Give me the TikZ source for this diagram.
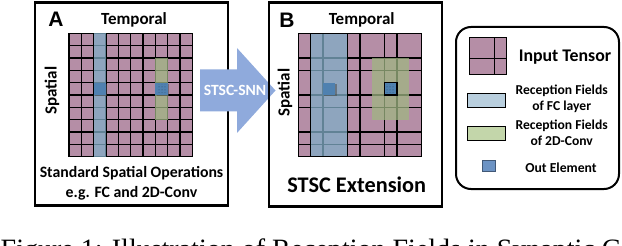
\documentclass[tikz,border=0pt]{standalone}
\usepackage{fontspec}
\usetikzlibrary{patterns}
\newfontfamily\carl{Carlito}
\newfontfamily\arialf{Liberation Sans}
\newfontfamily\timesf{Liberation Serif}
\definecolor{pinkT}{RGB}{181,142,166}
\definecolor{fcblue}{RGB}{130,174,199}
\definecolor{convgreen}{RGB}{160,182,131}
\definecolor{outblue}{RGB}{79,129,176}
\definecolor{arrowblue}{RGB}{143,170,220}
\definecolor{legblue}{RGB}{185,207,222}
\definecolor{leggreen}{RGB}{195,214,170}
\definecolor{legout}{RGB}{108,147,196}
\begin{document}
\begin{tikzpicture}[x=1pt,y=-1pt,
  gridline/.style={line width=1.2pt,black},
  panel/.style={line width=2.6pt,black},
  lab/.style={inner sep=0pt,font=\carl\bfseries\fontsize{#1}{#1}\selectfont},
  letter/.style={inner sep=0pt,font=\arialf\bfseries\fontsize{21}{21}\selectfont},
  fcover/.style={fill=fcblue,fill opacity=0.75},
  convover/.style={fill=convgreen,fill opacity=0.75},
  outshadow/.style={fill=black!70,fill opacity=0.55},
  outel/.style={fill=outblue},
  dotted texture/.style={pattern=dots,pattern color=outblue!55!black}]
\useasboundingbox (0,0) rectangle (622,246);
\clip (0,0) rectangle (622,246);
\def\u{12.333}
% ---------------- Panel A ----------------
\def\ax{69}\def\ay{33.33}
\fill[pinkT] (\ax,\ay) rectangle +(123.33,123.33);
\foreach \i in {1,...,9}{
  \draw[gridline] ({\ax+\i*\u},\ay) -- ++(0,123.33);
  \draw[gridline] (\ax,{\ay+\i*\u}) -- ++(123.33,0);}
\draw[gridline] (\ax,\ay) rectangle +(123.33,123.33);
\fill[fcover] ({\ax+2*\u},\ay) rectangle ({\ax+3*\u},{\ay+10*\u});
\fill[convover] ({\ax+7*\u},{\ay+2*\u}) rectangle ({\ax+8*\u},{\ay+7*\u});
\fill[outshadow] ({\ax+2*\u+1.2},{\ay+4*\u+1.2}) rectangle +(\u,\u);
\fill[outel] ({\ax+2*\u},{\ay+4*\u}) rectangle +(\u,\u);
\fill[outshadow] ({\ax+7*\u+1.2},{\ay+4*\u+1.2}) rectangle +(\u,\u);
\fill[outel] ({\ax+7*\u},{\ay+4*\u}) rectangle +(\u,\u);
\fill[dotted texture] ({\ax+7*\u+2},{\ay+4*\u+2}) rectangle +(8,8);
\node[letter] (A) at (56,19.5) {A};
\node[lab=17] (tempA) at (134,20) {Temporal};
\node[lab=17,rotate=90] (spatA) at (52,90.5) {Spatial};
\node[lab=15.8] (stdA) at (131.5,173) {Standard Spatial Operations};
\node[lab=15.8] (egA) at (131.5,193) {e.g. FC and 2D-Conv};
\draw[panel] (35,2.5) rectangle (228,205.5);
% ---------------- Arrow ----------------
\fill[arrowblue] (200,69.5) -- (237,69.5) -- (237,48) -- (275.5,90.5) -- (237,133) -- (237,111.5) -- (200,111.5) -- cycle;
\node[lab=15.6,text=white] (arr) at (235,90.5) {STSC-SNN};
% ---------------- Panel B ----------------
\def\bx{298.33}\def\by{33.33}
\fill[pinkT] (\bx,\by) rectangle +(123.33,123.33);
\foreach \i in {1,2,4,5,7,8}{
  \draw[gridline] ({\bx+\i*\u},\by) -- ++(0,123.33);}
\foreach \i in {2,3,5,6,8,9}{
  \draw[gridline] (\bx,{\by+\i*\u}) -- ++(123.33,0);}
\fill[fcover] ({\bx+1*\u},\by) rectangle ({\bx+4*\u},{\by+10*\u});
\fill[convover] ({\bx+6*\u},{\by+2*\u}) rectangle ({\bx+9*\u},{\by+7*\u});
\draw[gridline] ({\bx+1*\u},\by) -- ++(0,123.33);
\draw[gridline] ({\bx+4*\u},\by) -- ++(0,123.33);
\draw[gridline] (\bx,\by) rectangle +(123.33,123.33);
\fill[outshadow] ({\bx+2*\u+1.5},{\by+4*\u+1.5}) rectangle +(\u,\u);
\fill[outel] ({\bx+2*\u},{\by+4*\u}) rectangle +(\u,\u);
\fill[outshadow] ({\bx+7*\u+1.2},{\by+4*\u+1.2}) rectangle +(\u,\u);
\fill[outel] ({\bx+7*\u},{\by+4*\u}) rectangle +(\u,\u);
\fill[dotted texture] ({\bx+7*\u+2},{\by+4*\u+2}) rectangle +(8,8);
\draw[gridline] ({\bx+7*\u},{\by+4*\u}) rectangle +(\u,\u);
\node[letter] (B) at (287,20) {B};
\node[lab=17] (tempB) at (361.7,19.5) {Temporal};
\node[lab=17,rotate=90] (spatB) at (285,92.5) {Spatial};
\node[lab=22.3] (ext) at (356.7,185) {STSC Extension};
\draw[panel] (269,2.5) rectangle (442,206.5);
% ---------------- Legend ----------------
\draw[line width=2pt,rounded corners=15pt] (456,27) rectangle (619,189);
\fill[pinkT] (469,37.3) rectangle (506.7,75);
\draw[line width=1pt] (469,37.3) rectangle (506.7,75);
\draw[line width=1pt] (494.3,37.3) -- (494.3,75);
\draw[line width=1pt] (469,58.3) -- (506.7,58.3);
\node[lab=17.8] (lin) at (565,57) {Input Tensor};
\filldraw[fill=legblue,draw=black,line width=0.8pt] (467.7,93.3) rectangle (505,107.7);
\node[lab=13.6,align=center] (lfc) at (561.7,99) {Reception Fields\\[2.2pt]of FC layer};
\filldraw[fill=leggreen,draw=black,line width=0.8pt] (467.7,126.7) rectangle (505,140);
\node[lab=13.6,align=center] (lcv) at (561.7,132.7) {Reception Fields\\[2.2pt]of 2D-Conv};
\filldraw[fill=legout,draw=legout!60!black,line width=0.6pt] (482.7,160.7) rectangle (495,171.7);
\node[lab=13.7] (lout) at (561,167.7) {Out Element};
% ---------------- Caption (cut off) ----------------
\node[anchor=base west,inner sep=0pt,font=\timesf\fontsize{28}{30}\selectfont] (cap) at (0.5,258.5) {Figure 1: Illustration of Reception Fields in Synaptic Connections.};
\end{tikzpicture}
\end{document}
